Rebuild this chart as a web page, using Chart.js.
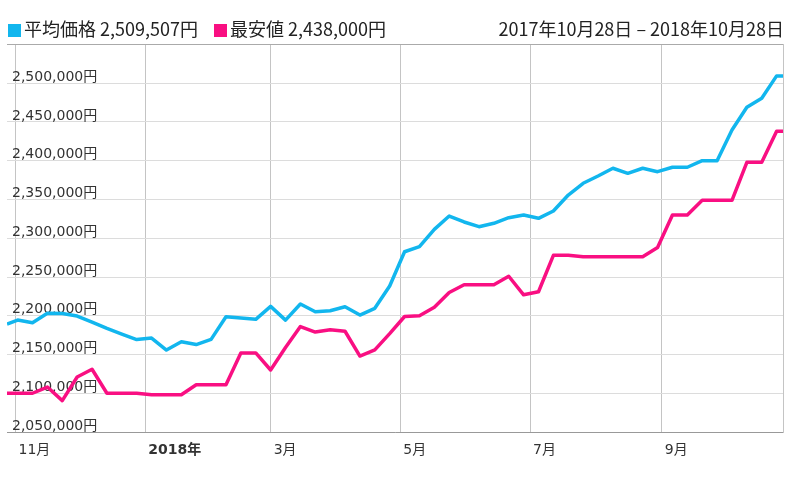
<!DOCTYPE html>
<html><head><meta charset="utf-8">
<script src="https://cdn.jsdelivr.net/npm/chart.js@4/dist/chart.umd.min.js"></script>
<style>
html,body{margin:0;padding:0;background:#fff;}
#wrap{position:relative;width:796px;height:480px;overflow:hidden;}
#c{position:absolute;left:0;top:0;}
.hdr{position:absolute;top:16px;height:24px;font-family:'Noto Sans CJK JP','DejaVu Sans',sans-serif;font-size:18px;line-height:24px;color:#222;white-space:nowrap;}
.sq{display:inline-block;width:13px;height:13px;margin-right:3px;vertical-align:-1px;}
</style>
</head><body>
<div id="wrap">
<canvas id="c" width="796" height="480"></canvas>
<div class="hdr" id="leg1" style="left:8px;"></div>
<div class="hdr" id="leg2" style="left:214px;"></div>
<div class="hdr" id="range" style="right:12px;"></div>
</div>
<script>
// ---- data ----
const seriesNames = ['平均価格', '最安値'];
const seriesColors = ['#12b6ee', '#f90f82'];
const latestValues = [2509507, 2438000];
const periodStart = '2017年10月28日';
const periodEnd = '2018年10月28日';
// days since 2017-10-28
const days = [0,5,12,19,26,33,40,47,54,61,68,75,82,89,96,103,110,117,124,131,138,145,152,159,166,173,180,187,194,201,208,215,222,229,236,243,250,257,264,271,278,285,292,299,306,313,320,327,334,341,348,355,362,365];
const avgPrice = [2189300,2194400,2191000,2203100,2202800,2199600,2191900,2183700,2176400,2169300,2171200,2155700,2166400,2162800,2169500,2198700,2197000,2195400,2212100,2194400,2215100,2205200,2206500,2211600,2200900,2209600,2238300,2282600,2289100,2311500,2328700,2321000,2314900,2319300,2326500,2330000,2325700,2335200,2355800,2370900,2380300,2390300,2383800,2390300,2385900,2391600,2391600,2400100,2400100,2439700,2469000,2480700,2509507,2509507];
const minPrice = [2100000,2100000,2100000,2108000,2090500,2121000,2131000,2100000,2100000,2100000,2098000,2098000,2098000,2111000,2111000,2111000,2152000,2152000,2130000,2159000,2186000,2179000,2182000,2180000,2148000,2156000,2177000,2199000,2200000,2211000,2230000,2240000,2240000,2240000,2251000,2227000,2231000,2278000,2278000,2276000,2276000,2276000,2276000,2276000,2288000,2330000,2330000,2349000,2349000,2349000,2398000,2398000,2438000,2438000];
const monthTickDays = [4, 65, 124, 185, 246, 308];
const monthTickLabels = ['11月', '2018年', '3月', '5月', '7月', '9月'];
const yTickValues = [2050000,2100000,2150000,2200000,2250000,2300000,2350000,2400000,2450000,2500000,2550000];

// ---- header ----
function fmt(v){ return v.toLocaleString('en-US'); }
[['leg1',0],['leg2',1]].forEach(([id,i])=>{
  const el = document.getElementById(id);
  const sq = document.createElement('span'); sq.className='sq'; sq.style.background = seriesColors[i];
  el.appendChild(sq);
  el.appendChild(document.createTextNode(seriesNames[i] + ' ' + fmt(latestValues[i]) + '円'));
});
document.getElementById('range').textContent = periodStart + ' – ' + periodEnd;

// ---- chart ----
const yMin = yTickValues[0], yMax = yTickValues[yTickValues.length-1];
const mk = (vals) => days.map((d,i)=>({x:d, y:vals[i]}));
new Chart(document.getElementById('c'), {
  type: 'line',
  data: { datasets: [
    {label: seriesNames[0], data: mk(avgPrice), borderColor: seriesColors[0], borderWidth: 3.5, pointRadius: 0, tension: 0, borderJoinStyle: 'round', fill: false},
    {label: seriesNames[1], data: mk(minPrice), borderColor: seriesColors[1], borderWidth: 3.5, pointRadius: 0, tension: 0, borderJoinStyle: 'round', fill: false}
  ]},
  options: {
    responsive: false, animation: false, devicePixelRatio: 1,
    layout: {padding: {left: 7, right: 13, top: 44.5, bottom: 0}},
    plugins: {legend: {display: false}, tooltip: {enabled: false}, title: {display: false}},
    scales: {
      x: {
        type: 'linear', min: days[0], max: days[days.length-1],
        afterBuildTicks: s => { s.ticks = monthTickDays.map(v => ({value: v})); },
        afterFit: s => { s.height = 48; },
        grid: {color: '#c4c4c4', drawTicks: false, lineWidth: 1},
        border: {color: '#999', width: 1},
        ticks: {
          align: 'start', labelOffset: 3, padding: 10, color: '#333', autoSkip: false, maxRotation: 0,
          font: c => ({family: "'DejaVu Sans','Noto Sans CJK JP'", size: 14, weight: (c.index === 1 ? 'bold' : 'normal')}),
          callback: (v, i) => monthTickLabels[i]
        }
      },
      y: {
        min: yMin, max: yMax,
        afterBuildTicks: s => { s.ticks = yTickValues.map(v => ({value: v})); },
        afterFit: s => { s.width = 0; },
        grid: {color: c => (c.tick && c.tick.value === yMax ? '#aaa' : '#dcdcdc'), drawTicks: false, lineWidth: 1},
        border: {display: false},
        ticks: {
          mirror: true, padding: 5, labelOffset: -6, color: '#333',
          font: {family: "'DejaVu Sans','Noto Sans CJK JP'", size: 14},
          callback: v => (v === yMax ? '' : fmt(v) + '円')
        }
      },
      yR: {
        position: 'right', min: yMin, max: yMax,
        afterFit: s => { s.width = 0; },
        grid: {drawOnChartArea: false, drawTicks: false},
        border: {color: '#c4c4c4'},
        ticks: {display: false}
      }
    }
  }
});
</script>
</body></html>
